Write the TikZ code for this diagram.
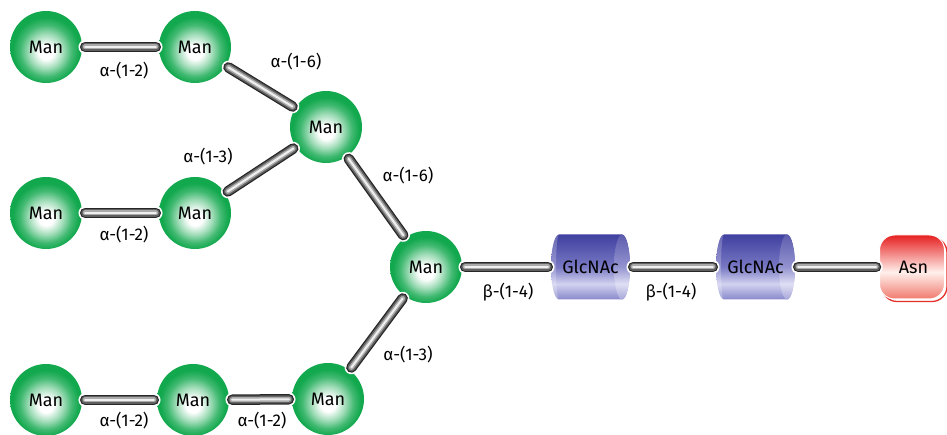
\documentclass[tikz,border=0pt]{standalone}
\usepackage{fontspec}
\setmainfont{Fira Sans}
\usetikzlibrary{shadows}
\definecolor{mangreen}{RGB}{18,168,78}
\definecolor{glcTop}{RGB}{64,64,160}
\definecolor{glcMid}{RGB}{120,120,196}
\definecolor{glcLight}{RGB}{210,210,240}
\definecolor{glcBot}{RGB}{136,136,204}
\definecolor{asnTop}{RGB}{230,32,32}
\definecolor{asnMid}{RGB}{255,240,236}
\definecolor{asnBot}{RGB}{240,122,110}
\definecolor{asnred}{RGB}{228,48,42}
\definecolor{tubeDark}{RGB}{38,38,38}
\definecolor{tubeGray}{RGB}{95,95,95}
\definecolor{tubeLight}{RGB}{170,170,170}
\pgfdeclareradialshading{manball}{\pgfpoint{0bp}{-4bp}}{color(0bp)=(white); color(5bp)=(white); color(12bp)=(mangreen!40!white); color(18bp)=(mangreen!80!white); color(23bp)=(mangreen); color(50bp)=(mangreen)}
\pgfdeclareverticalshading{glcbody}{100bp}{color(0bp)=(glcBot); color(25bp)=(glcBot); color(37bp)=(glcLight); color(50bp)=(glcMid); color(75bp)=(glcTop); color(100bp)=(glcTop)}
\pgfdeclareverticalshading{glcface}{100bp}{color(0bp)=(glcBot!75!white); color(25bp)=(glcBot!75!white); color(37bp)=(glcLight!70!white); color(50bp)=(glcMid!80!white); color(75bp)=(glcTop!85!white); color(100bp)=(glcTop!85!white)}
\pgfdeclareverticalshading{asnshade}{100bp}{color(0bp)=(asnBot); color(25bp)=(asnBot); color(46bp)=(asnMid); color(75bp)=(asnTop); color(100bp)=(asnTop)}
\newcommand\cylshape[1]{%
  \begin{scope}[shift={(#1)}]
    \shade[shading=glcbody] (-31.5,32.5) arc[start angle=90, end angle=270, x radius=8, y radius=32.5]
      -- (31.5,-32.5) arc[start angle=-90, end angle=90, x radius=8, y radius=32.5] -- cycle;
    \fill[white, opacity=0.22] (-31.5,32.5) arc[start angle=90, end angle=270, x radius=8, y radius=32.5]
      arc[start angle=270, end angle=90, x radius=3, y radius=32.5] -- cycle;
    \shade[shading=glcface] (31.5,0) ellipse[x radius=8, y radius=32.5];
  \end{scope}}
\newcommand\tubelink[2]{%
  \draw[tA] (#1) -- (#2);
  \draw[tB] (#1) -- (#2);
  \draw[tC] (#1) -- (#2);
  \draw[tD] (#1) -- (#2);
  \draw[tE] (#1) -- (#2);}
\begin{document}
\begin{tikzpicture}[x=1pt,y=1pt,
  lbl/.style={font=\fontsize{17}{19}\selectfont, inner sep=0pt},
  man/.style={circle, minimum size=72pt, inner sep=0pt, shading=manball, font=\fontsize{18}{20}\selectfont},
  glc/.style={rectangle, minimum width=79pt, minimum height=65pt, inner sep=0pt, font=\fontsize{18}{20}\selectfont},
  asn/.style={rectangle, rounded corners=15pt, minimum width=65pt, minimum height=64pt, inner sep=0pt,
     shading=asnshade, draw=white, line width=1pt,
     general shadow={shadow xshift=2.5pt, shadow yshift=-2.5pt, fill=white, draw=asnred, line width=1.3pt},
     font=\fontsize{18}{20}\selectfont},
  tubebase/.style={line cap=round, shorten <=3pt, shorten >=3pt},
  tA/.style={tubebase, white, line width=13.5pt},
  tB/.style={tubebase, tubeDark, line width=10.5pt},
  tC/.style={tubebase, tubeGray, line width=8pt},
  tD/.style={tubebase, tubeLight, line width=5pt},
  tE/.style={tubebase, white!94!black, line width=2pt}]
\useasboundingbox (0,0) rectangle (947,435);
\clip (0,0) rectangle (947,435);
% mannose balls
\node[man] (M1) at (46,388) {Man};
\node[man] (M2) at (195,388) {Man};
\node[man] (M3) at (326,308) {Man};
\node[man] (M4) at (46,222) {Man};
\node[man] (M5) at (195,222) {Man};
\node[man] (M6) at (426,168) {Man};
\node[man] (M7) at (46,35) {Man};
\node[man] (M8) at (193,35) {Man};
\node[man] (M9) at (328,36) {Man};
% GlcNAc cylinders
\coordinate (g1c) at (590.5,168);
\coordinate (g2c) at (755.5,168);
\cylshape{g1c}
\cylshape{g2c}
\node[glc] (G1) at (g1c) {GlcNAc};
\node[glc] (G2) at (g2c) {GlcNAc};
% Asn
\node[asn] (A) at (912,168) {\hspace*{3pt}Asn};
% connectors
\tubelink{M1}{M2}
\tubelink{M2}{M3}
\tubelink{M5}{M3}
\tubelink{M4}{M5}
\tubelink{M3}{M6}
\tubelink{M6}{M9}
\tubelink{M7}{M8}
\tubelink{M8}{M9}
\tubelink{M6}{G1}
\tubelink{G1}{G2}
\tubelink{G2}{A}
% labels
\node[lbl] (l1) at (124,364) {α-(1-2)};
\node[lbl] (l2) at (296,373) {α-(1-6)};
\node[lbl] (l3) at (208,278) {α-(1-3)};
\node[lbl] (l4) at (124,200) {α-(1-2)};
\node[lbl] (l5) at (408,259) {α-(1-6)};
\node[lbl] (l6) at (408,80) {α-(1-3)};
\node[lbl] (l7) at (508,143) {β-(1-4)};
\node[lbl] (l8) at (671,143) {β-(1-4)};
\node[lbl] (l9) at (124,14) {α-(1-2)};
\node[lbl] (l10) at (262,14) {α-(1-2)};
\end{tikzpicture}
\end{document}
